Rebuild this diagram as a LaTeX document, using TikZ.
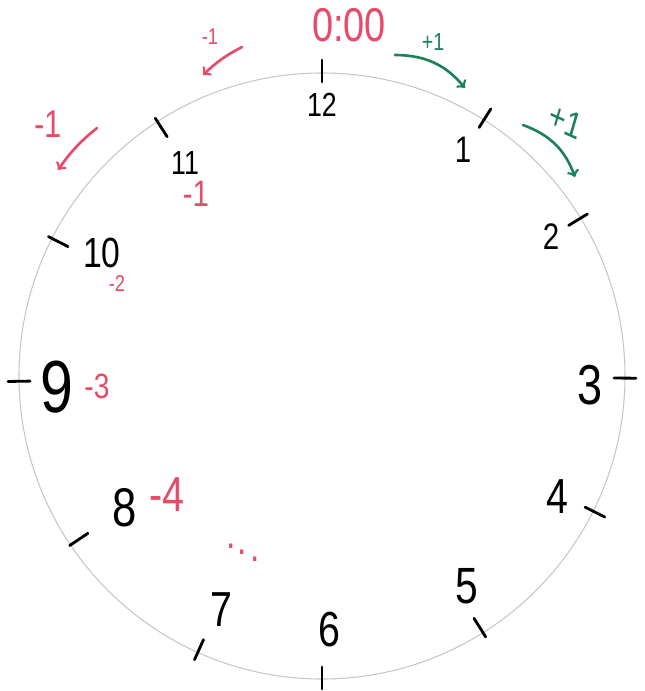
\documentclass[tikz,border=0pt]{standalone}
\usepackage{fontspec}
\setmainfont{Liberation Sans}
\definecolor{clockred}{RGB}{232,74,104}
\definecolor{clockgreen}{RGB}{28,128,88}

\begin{document}
\begin{tikzpicture}[x=0.02cm, y=0.02cm,
  every node/.style={inner sep=0pt, xscale=0.8},
  rim/.style={draw=gray!45, line width=0.6pt},
  tick/.style={line width=1.6pt, line cap=round},
  num/.style={text=black},
  minus/.style={text=clockred},
  plus/.style={text=clockgreen},
  back/.style={->, line width=1.5pt, draw=clockred, line cap=round},
  fwd/.style={->, line width=1.5pt, draw=clockgreen, line cap=round}
]
\useasboundingbox (-322,-315) rectangle (323,376);

% DIAL
\draw[rim] (0,0) circle (303);
\foreach \a/\r in {90/305, 57.7/305, 31.4/300, -0.4/303, -26.5/305, -57.9/297,
                   -90/302, -114.2/300, -146.1/293, -179/303, 153/296, 122.9/296}
  \draw[tick] (\a:\r-11) -- (\a:\r+11);

% HOURS
\foreach \n/\x/\y/\s in {12/0/271/19, 1/141/226/21, 2/229/139/21, 3/268/-9/32,
                         4/235/-121/28, 5/145/-210/29, 6/7/-254/28, 7/-101/-234/28,
                         8/-197/-132/31, 9/-265/-11/42, 10/-220/123/24, 11/-137/213/19}
  \node[num, font=\fontsize{\s}{\s}\selectfont] (n\n) at (\x,\y) {\n};

\node[minus, font=\fontsize{27}{27}\selectfont] (start) at (27,351) {0:00};

% COUNTING BACK
\node[minus, font=\fontsize{21}{21}\selectfont] (m1) at (-126,182) {-1};
\node[minus, font=\fontsize{13}{13}\selectfont] (m2) at (-205,92) {-2};
\node[minus, font=\fontsize{20}{20}\selectfont] (m3) at (-225,-10) {-3};
\node[minus, font=\fontsize{28}{28}\selectfont] (m4) at (-155,-119) {-4};
\foreach \i/\x/\y in {1/-91/-170, 2/-80/-176, 3/-67/-183}
  \node[minus, font=\fontsize{24}{24}\selectfont] (dot\i) at (\x,\y) {.};

\node[minus, font=\fontsize{13}{13}\selectfont] (topback) at (-112,339) {-1};
\coordinate (tb0) at (-80,329);
\coordinate (tb1) at (-119,301);
\draw[back] (tb0) to[bend right=8] (tb1);

\node[minus, font=\fontsize{22}{22}\selectfont] (leftback) at (-274,252) {-1};
\coordinate (lb0) at (-225,248);
\coordinate (lb1) at (-264,206);
\draw[back] (lb0) to[bend right=8] (lb1);

% COUNTING ON
\node[plus, font=\fontsize{14}{14}\selectfont] (topfwd) at (111,334) {+1};
\coordinate (tf0) at (73,321);
\coordinate (tf1) at (143,288);
\draw[fwd] (tf0) to[bend left=25] (tf1);

\node[plus, font=\fontsize{21}{21}\selectfont, rotate=-20] (rightfwd) at (244,255) {+1};
\coordinate (rf0) at (201,251);
\coordinate (rf1) at (253,199);
\draw[fwd] (rf0) to[bend left=25] (rf1);

\end{tikzpicture}
\end{document}
